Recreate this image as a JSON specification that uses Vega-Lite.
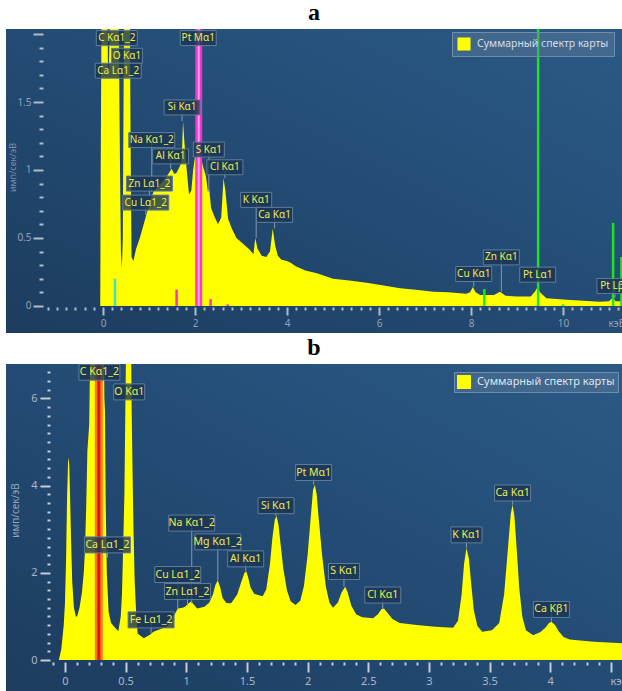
{
  "$schema": "https://vega.github.io/schema/vega-lite/v6.json",
  "background": "white",
  "padding": {"left": 6, "top": 1, "right": 0, "bottom": 0},
  "spacing": 3,
  "resolve": {"scale": {"color": "independent"}},
  "config": {
    "view": {"stroke": null},
    "font": "Noto Sans",
    "axis": {"domain": false, "grid": false, "labelOverlap": false, "labelFlush": false, "labelFont": "Noto Sans", "titleFont": "Noto Sans", "titleFontWeight": "normal", "tickCount": 500},
    "title": {"font": "Liberation Serif", "fontWeight": "bold", "fontSize": 24, "color": "#000000", "anchor": "middle", "frame": "group", "offset": 4}
  },
  "datasets": {
    "specA": [
      {"e": -0.06, "c": 0}, {"e": -0.05, "c": 1.0}, {"e": -0.03, "c": 2.3}, {"e": 0.03, "c": 2.5}, {"e": 0.09, "c": 2.3},
      {"e": 0.11, "c": 1.7}, {"e": 0.13, "c": 1.75}, {"e": 0.16, "c": 2.4}, {"e": 0.3, "c": 2.5}, {"e": 0.34, "c": 2.2},
      {"e": 0.37, "c": 1.0}, {"e": 0.39, "c": 0.4}, {"e": 0.41, "c": 0.28}, {"e": 0.43, "c": 0.5}, {"e": 0.46, "c": 2.3},
      {"e": 0.58, "c": 2.4}, {"e": 0.6, "c": 1.2}, {"e": 0.62, "c": 0.36}, {"e": 0.66, "c": 0.33}, {"e": 0.72, "c": 0.42},
      {"e": 0.8, "c": 0.5}, {"e": 0.9, "c": 0.62}, {"e": 0.95, "c": 0.68}, {"e": 1.0, "c": 0.74}, {"e": 1.05, "c": 0.8},
      {"e": 1.1, "c": 0.84}, {"e": 1.2, "c": 0.88}, {"e": 1.31, "c": 0.92}, {"e": 1.4, "c": 0.96}, {"e": 1.49, "c": 1.01},
      {"e": 1.55, "c": 0.97}, {"e": 1.6, "c": 0.98}, {"e": 1.66, "c": 1.02}, {"e": 1.71, "c": 1.06}, {"e": 1.74, "c": 1.36},
      {"e": 1.77, "c": 1.2}, {"e": 1.82, "c": 1.0}, {"e": 1.87, "c": 0.82}, {"e": 1.92, "c": 0.85}, {"e": 1.96, "c": 1.0},
      {"e": 2.0, "c": 1.1}, {"e": 2.05, "c": 1.25}, {"e": 2.12, "c": 1.1}, {"e": 2.18, "c": 1.02}, {"e": 2.24, "c": 0.95},
      {"e": 2.28, "c": 0.84}, {"e": 2.31, "c": 0.86}, {"e": 2.35, "c": 0.72}, {"e": 2.42, "c": 0.66}, {"e": 2.5, "c": 0.6},
      {"e": 2.57, "c": 0.65}, {"e": 2.62, "c": 0.94}, {"e": 2.66, "c": 0.85}, {"e": 2.72, "c": 0.64}, {"e": 2.8, "c": 0.57},
      {"e": 2.9, "c": 0.5}, {"e": 3.0, "c": 0.47}, {"e": 3.1, "c": 0.44}, {"e": 3.2, "c": 0.41}, {"e": 3.27, "c": 0.38},
      {"e": 3.31, "c": 0.5}, {"e": 3.36, "c": 0.42}, {"e": 3.45, "c": 0.37}, {"e": 3.55, "c": 0.36}, {"e": 3.63, "c": 0.4},
      {"e": 3.69, "c": 0.57}, {"e": 3.74, "c": 0.45}, {"e": 3.8, "c": 0.37}, {"e": 3.88, "c": 0.34}, {"e": 4.0, "c": 0.33},
      {"e": 4.07, "c": 0.32}, {"e": 4.2, "c": 0.29}, {"e": 4.4, "c": 0.26}, {"e": 4.65, "c": 0.24}, {"e": 5.0, "c": 0.2},
      {"e": 5.4, "c": 0.185}, {"e": 5.73, "c": 0.17}, {"e": 6.1, "c": 0.15}, {"e": 6.46, "c": 0.13}, {"e": 6.8, "c": 0.12},
      {"e": 7.18, "c": 0.105}, {"e": 7.5, "c": 0.1}, {"e": 7.9, "c": 0.09}, {"e": 7.98, "c": 0.1}, {"e": 8.04, "c": 0.14},
      {"e": 8.1, "c": 0.1}, {"e": 8.2, "c": 0.08}, {"e": 8.5, "c": 0.08}, {"e": 8.63, "c": 0.105}, {"e": 8.75, "c": 0.075},
      {"e": 9.0, "c": 0.07}, {"e": 9.3, "c": 0.07}, {"e": 9.4, "c": 0.11}, {"e": 9.45, "c": 0.14}, {"e": 9.5, "c": 0.1},
      {"e": 9.64, "c": 0.057}, {"e": 10.08, "c": 0.045}, {"e": 10.8, "c": 0.03}, {"e": 11.0, "c": 0.035}, {"e": 11.07, "c": 0.057},
      {"e": 11.15, "c": 0.035}, {"e": 11.3, "c": 0.035}
    ],
    "specB": [
      {"e": -0.05, "c": 0}, {"e": -0.03, "c": 0.25}, {"e": -0.01, "c": 0.8}, {"e": 0.0, "c": 1.3}, {"e": 0.01, "c": 2.4},
      {"e": 0.018, "c": 3.8}, {"e": 0.027, "c": 4.65}, {"e": 0.035, "c": 4.5}, {"e": 0.042, "c": 3.8}, {"e": 0.05, "c": 2.8},
      {"e": 0.06, "c": 1.8}, {"e": 0.074, "c": 1.2}, {"e": 0.09, "c": 1.0}, {"e": 0.1, "c": 1.0}, {"e": 0.12, "c": 1.2},
      {"e": 0.14, "c": 1.55}, {"e": 0.155, "c": 2.0}, {"e": 0.165, "c": 2.5}, {"e": 0.175, "c": 3.5}, {"e": 0.185, "c": 4.8},
      {"e": 0.2, "c": 5.4}, {"e": 0.21, "c": 7.5}, {"e": 0.28, "c": 9}, {"e": 0.32, "c": 7.5}, {"e": 0.325, "c": 6.0},
      {"e": 0.33, "c": 5.7}, {"e": 0.336, "c": 3.6}, {"e": 0.345, "c": 2.0}, {"e": 0.36, "c": 1.1}, {"e": 0.38, "c": 0.85},
      {"e": 0.41, "c": 0.75}, {"e": 0.44, "c": 0.66}, {"e": 0.46, "c": 1.0}, {"e": 0.47, "c": 1.5}, {"e": 0.48, "c": 2.6},
      {"e": 0.49, "c": 3.8}, {"e": 0.505, "c": 7.5}, {"e": 0.525, "c": 9}, {"e": 0.545, "c": 7.5}, {"e": 0.55, "c": 5.7},
      {"e": 0.558, "c": 4.2}, {"e": 0.565, "c": 3.0}, {"e": 0.575, "c": 1.8}, {"e": 0.59, "c": 0.9}, {"e": 0.6, "c": 0.6},
      {"e": 0.65, "c": 0.5}, {"e": 0.7, "c": 0.58}, {"e": 0.73, "c": 0.65}, {"e": 0.8, "c": 0.72}, {"e": 0.84, "c": 0.77},
      {"e": 0.87, "c": 0.88}, {"e": 0.9, "c": 1.02}, {"e": 0.93, "c": 1.18}, {"e": 0.97, "c": 1.2}, {"e": 0.99, "c": 1.22},
      {"e": 1.02, "c": 1.3}, {"e": 1.04, "c": 1.34}, {"e": 1.06, "c": 1.28}, {"e": 1.09, "c": 1.18}, {"e": 1.15, "c": 1.22},
      {"e": 1.19, "c": 1.32}, {"e": 1.22, "c": 1.5}, {"e": 1.24, "c": 1.72}, {"e": 1.26, "c": 1.83}, {"e": 1.28, "c": 1.66},
      {"e": 1.3, "c": 1.42}, {"e": 1.33, "c": 1.31}, {"e": 1.37, "c": 1.3}, {"e": 1.42, "c": 1.5}, {"e": 1.45, "c": 1.76},
      {"e": 1.48, "c": 2.0}, {"e": 1.495, "c": 2.03}, {"e": 1.51, "c": 1.9}, {"e": 1.53, "c": 1.66}, {"e": 1.56, "c": 1.52},
      {"e": 1.59, "c": 1.49}, {"e": 1.63, "c": 1.46}, {"e": 1.66, "c": 1.62}, {"e": 1.69, "c": 2.2}, {"e": 1.71, "c": 2.8},
      {"e": 1.73, "c": 3.22}, {"e": 1.745, "c": 3.3}, {"e": 1.76, "c": 3.1}, {"e": 1.78, "c": 2.6}, {"e": 1.8, "c": 2.1},
      {"e": 1.83, "c": 1.6}, {"e": 1.86, "c": 1.35}, {"e": 1.9, "c": 1.26}, {"e": 1.94, "c": 1.36}, {"e": 1.97, "c": 1.7},
      {"e": 2.0, "c": 2.4}, {"e": 2.03, "c": 3.4}, {"e": 2.045, "c": 3.9}, {"e": 2.06, "c": 4.02}, {"e": 2.075, "c": 3.8},
      {"e": 2.09, "c": 3.3}, {"e": 2.12, "c": 2.4}, {"e": 2.15, "c": 1.7}, {"e": 2.18, "c": 1.32}, {"e": 2.21, "c": 1.2},
      {"e": 2.25, "c": 1.32}, {"e": 2.28, "c": 1.55}, {"e": 2.31, "c": 1.68}, {"e": 2.33, "c": 1.56}, {"e": 2.36, "c": 1.25},
      {"e": 2.4, "c": 1.05}, {"e": 2.45, "c": 0.98}, {"e": 2.54, "c": 0.96}, {"e": 2.58, "c": 1.05}, {"e": 2.61, "c": 1.17},
      {"e": 2.63, "c": 1.18}, {"e": 2.66, "c": 1.08}, {"e": 2.7, "c": 0.94}, {"e": 2.76, "c": 0.85}, {"e": 2.9, "c": 0.8},
      {"e": 3.05, "c": 0.76}, {"e": 3.2, "c": 0.74}, {"e": 3.24, "c": 0.9}, {"e": 3.27, "c": 1.5}, {"e": 3.29, "c": 2.2},
      {"e": 3.31, "c": 2.57}, {"e": 3.33, "c": 2.32}, {"e": 3.35, "c": 1.72}, {"e": 3.37, "c": 1.15}, {"e": 3.4, "c": 0.78},
      {"e": 3.44, "c": 0.65}, {"e": 3.52, "c": 0.68}, {"e": 3.58, "c": 0.85}, {"e": 3.62, "c": 1.5}, {"e": 3.65, "c": 2.5},
      {"e": 3.675, "c": 3.35}, {"e": 3.69, "c": 3.56}, {"e": 3.705, "c": 3.3}, {"e": 3.725, "c": 2.5}, {"e": 3.745, "c": 1.65},
      {"e": 3.77, "c": 1.0}, {"e": 3.8, "c": 0.68}, {"e": 3.86, "c": 0.57}, {"e": 3.92, "c": 0.64}, {"e": 3.96, "c": 0.74},
      {"e": 3.99, "c": 0.85}, {"e": 4.01, "c": 0.88}, {"e": 4.04, "c": 0.8}, {"e": 4.07, "c": 0.66}, {"e": 4.11, "c": 0.53},
      {"e": 4.16, "c": 0.47}, {"e": 4.36, "c": 0.42}, {"e": 4.6, "c": 0.38}
    ],
    "markA": [
      {"e": 0.26, "h": 0.2, "fam": "K"},
      {"e": 1.6, "h": 0.12, "fam": "M"},
      {"e": 2.34, "h": 0.05, "fam": "M"},
      {"e": 2.71, "h": 0.012, "fam": "M"},
      {"e": 8.29, "h": 0.125, "fam": "L"},
      {"e": 9.46, "h": 3, "fam": "L"},
      {"e": 10.0, "h": 0.012, "fam": "L"},
      {"e": 11.09, "h": 0.61, "fam": "L"},
      {"e": 11.27, "h": 0.36, "fam": "L"}
    ],
    "selA": [{"e": 2.08, "h": 3}],
    "selB": [{"e": 0.279, "h": 9}],
    "labA": [
      {"label": "C Kα1_2", "e": 0.30, "ly": 1.97, "py": 1.97},
      {"label": "O Kα1", "e": 0.52, "ly": 1.84, "py": 1.84},
      {"label": "Ca Lα1_2", "e": 0.33, "ly": 1.73, "py": 1.73},
      {"label": "Pt Mα1", "e": 2.07, "ly": 1.97, "py": 1.97},
      {"label": "Si Kα1", "e": 1.72, "ly": 1.46, "py": 1.36},
      {"label": "Na Kα1_2", "e": 1.06, "ly": 1.22, "py": 0.84},
      {"label": "Al Kα1", "e": 1.47, "ly": 1.10, "py": 1.01},
      {"label": "S Kα1", "e": 2.30, "ly": 1.15, "py": 0.84},
      {"label": "Cl Kα1", "e": 2.65, "ly": 1.02, "py": 0.94},
      {"label": "Zn Lα1_2", "e": 1.01, "ly": 0.90, "py": 0.80},
      {"label": "Cu Lα1_2", "e": 0.93, "ly": 0.76, "py": 0.67},
      {"label": "K Kα1", "e": 3.33, "ly": 0.78, "py": 0.50},
      {"label": "Ca Kα1", "e": 3.73, "ly": 0.67, "py": 0.57},
      {"label": "Cu Kα1", "e": 8.06, "ly": 0.235, "py": 0.14},
      {"label": "Zn Kα1", "e": 8.66, "ly": 0.357, "py": 0.105},
      {"label": "Pt Lα1", "e": 9.45, "ly": 0.23, "py": 0.14},
      {"label": "Pt Lβ1", "e": 11.13, "ly": 0.147, "py": 0.06}
    ],
    "labB": [
      {"label": "C Kα1_2", "e": 0.284, "ly": 6.6, "py": 6.6},
      {"label": "O Kα1", "e": 0.53, "ly": 6.15, "py": 6.15},
      {"label": "Ca Lα1_2", "e": 0.35, "ly": 2.64, "py": 2.35},
      {"label": "Na Kα1_2", "e": 1.045, "ly": 3.14, "py": 1.3},
      {"label": "Mg Kα1_2", "e": 1.26, "ly": 2.71, "py": 1.83},
      {"label": "Al Kα1", "e": 1.49, "ly": 2.32, "py": 2.03},
      {"label": "Si Kα1", "e": 1.74, "ly": 3.54, "py": 3.3},
      {"label": "Cu Lα1_2", "e": 0.93, "ly": 1.96, "py": 1.18},
      {"label": "Zn Lα1_2", "e": 1.01, "ly": 1.57, "py": 1.25},
      {"label": "Fe Lα1_2", "e": 0.71, "ly": 0.92, "py": 0.62},
      {"label": "Pt Mα1", "e": 2.05, "ly": 4.3, "py": 4.02},
      {"label": "S Kα1", "e": 2.3, "ly": 2.03, "py": 1.68},
      {"label": "Cl Kα1", "e": 2.62, "ly": 1.49, "py": 1.18},
      {"label": "K Kα1", "e": 3.31, "ly": 2.87, "py": 2.57},
      {"label": "Ca Kα1", "e": 3.69, "ly": 3.83, "py": 3.56},
      {"label": "Ca Kβ1", "e": 4.01, "ly": 1.16, "py": 0.88}
    ]
  },
  "vconcat": [
    {
      "title": {"text": "a"},
      "width": 616,
      "height": 304,
      "view": {"stroke": null, "fill": {"gradient": "linear", "x1": 0, "y1": 1, "x2": 1, "y2": 0, "stops": [{"offset": 0, "color": "#1d3c5f"}, {"offset": 0.65, "color": "#25507a"}, {"offset": 1, "color": "#2b5a86"}]}},
      "layer": [
        {
          "data": {"name": "specA"},
          "mark": {"type": "area", "clip": true, "interpolate": "linear"},
          "encoding": {
            "x": {"field": "e", "type": "quantitative", "scale": {"domain": [-2.109, 11.283], "nice": false, "zero": false},
              "axis": {"orient": "bottom", "offset": -26, "labelOverlap": false, "labelFlush": false, "labelBound": false, "tickCount": 500,
                "values": [-1.2,-1,-0.8,-0.6,-0.4,-0.2,0,0.2,0.4,0.6,0.8,1,1.2,1.4,1.6,1.8,2,2.2,2.4,2.6,2.8,3,3.2,3.4,3.6,3.8,4,4.2,4.4,4.6,4.8,5,5.2,5.4,5.6,5.8,6,6.2,6.4,6.6,6.8,7,7.2,7.4,7.6,7.8,8,8.2,8.4,8.6,8.8,9,9.2,9.4,9.6,9.8,10,10.2,10.4,10.6,10.8,11,11.2],
                "tickSize": {"condition": {"test": "abs(datum.value/2-round(datum.value/2))<0.01", "value": 8}, "value": 3},
                "tickWidth": 2, "tickColor": "#aebdcd",
                "labelExpr": "abs(datum.value/2-round(datum.value/2))<0.01 ? format(datum.value,'~g') : ''",
                "labelColor": "#8fa3b8", "labelFontSize": 10, "labelPadding": 3,
                "title": "кэВ", "titleX": 602, "titleY": 16, "titleAlign": "left", "titleBaseline": "middle", "titleColor": "#8fa3b8", "titleFontSize": 10}},
            "y": {"field": "c", "type": "quantitative", "scale": {"domain": [-0.199, 2.037], "nice": false, "zero": false},
              "axis": {"orient": "left", "offset": -37, "labelOverlap": false, "labelFlush": false, "labelBound": false, "tickCount": 500,
                "values": [0,0.1,0.2,0.3,0.4,0.5,0.6,0.7,0.8,0.9,1,1.1,1.2,1.3,1.4,1.5,1.6,1.7,1.8,1.9,2],
                "tickSize": {"condition": {"test": "abs(datum.value*2-round(datum.value*2))<0.01", "value": 10}, "value": 4},
                "tickWidth": 2, "tickColor": "#aebdcd",
                "labelExpr": "abs(datum.value*2-round(datum.value*2))<0.01 && datum.value<1.9 ? format(datum.value,'~g') : ''",
                "labelColor": "#8fa3b8", "labelFontSize": 10, "labelPadding": 2,
                "title": "имп/сек/эВ", "titleX": -31, "titleY": 138, "titleAngle": -90, "titleAlign": "center", "titleBaseline": "middle", "titleColor": "#7d90a6", "titleFontSize": 9}},
            "y2": {"datum": 0},
            "color": {"datum": "Суммарный спектр карты", "type": "nominal", "scale": {"range": ["#ffff00"]},
              "legend": {"orient": "none", "legendX": 446, "legendY": 3, "title": null, "padding": 5, "fillColor": "rgba(95,125,155,0.45)", "strokeColor": "#6f8cab", "symbolType": "square", "symbolSize": 170, "symbolStrokeWidth": 0, "symbolOpacity": 1, "labelColor": "#d5dee8", "labelFontSize": 10.5, "labelFont": "Noto Sans", "labelLimit": 400, "labelOffset": 6, "labelExpr": "datum.label + '              '"}}
          }
        },
        {
          "data": {"name": "markA"},
          "mark": {"type": "rule", "clip": true, "strokeWidth": 2.5},
          "encoding": {
            "x": {"field": "e", "type": "quantitative"},
            "y": {"field": "h", "type": "quantitative"},
            "y2": {"datum": 0},
            "stroke": {"field": "fam", "type": "nominal", "scale": {"domain": ["K", "L", "M"], "range": ["#3de3c6", "#1be61b", "#ff2fd2"]}, "legend": null}
          }
        },
        {
          "data": {"name": "selA"},
          "mark": {"type": "rule", "clip": true, "strokeWidth": 7, "color": "#ff2fd2", "opacity": 0.95},
          "encoding": {"x": {"field": "e", "type": "quantitative"}, "y": {"field": "h", "type": "quantitative"}, "y2": {"datum": 0}}
        },
        {
          "data": {"name": "selA"},
          "mark": {"type": "rule", "clip": true, "strokeWidth": 2, "color": "#ff9fe9"},
          "encoding": {"x": {"field": "e", "type": "quantitative"}, "y": {"field": "h", "type": "quantitative"}, "y2": {"datum": 0}}
        },
        {
          "data": {"name": "labA"},
          "mark": {"type": "rule", "clip": true, "strokeWidth": 1, "color": "#8699b0"},
          "encoding": {"x": {"field": "e", "type": "quantitative"}, "y": {"field": "ly", "type": "quantitative"}, "y2": {"field": "py"}}
        },
        {
          "data": {"name": "labA"},
          "transform": [{"calculate": "length(datum.label)*5+6", "as": "w"}],
          "mark": {"type": "tick", "orient": "horizontal", "clip": true, "thickness": 15, "fill": "#1b3452", "fillOpacity": 0.8, "stroke": "#5f7d9b", "strokeWidth": 1},
          "encoding": {"x": {"field": "e", "type": "quantitative"}, "y": {"field": "ly", "type": "quantitative"}, "size": {"field": "w", "type": "quantitative", "scale": null}}
        },
        {
          "data": {"name": "labA"},
          "mark": {"type": "text", "clip": true, "font": "Noto Sans", "fontSize": 10, "color": "#eded50", "align": "center", "baseline": "middle"},
          "encoding": {"x": {"field": "e", "type": "quantitative"}, "y": {"field": "ly", "type": "quantitative"}, "text": {"field": "label"}}
        }
      ]
    },
    {
      "title": {"text": "b"},
      "width": 616,
      "height": 327,
      "view": {"stroke": null, "fill": {"gradient": "linear", "x1": 0, "y1": 1, "x2": 1, "y2": 0, "stops": [{"offset": 0, "color": "#1d3c5f"}, {"offset": 0.65, "color": "#25507a"}, {"offset": 1, "color": "#2b5a86"}]}},
      "layer": [
        {
          "data": {"name": "specB"},
          "mark": {"type": "area", "clip": true, "interpolate": "linear"},
          "encoding": {
            "x": {"field": "e", "type": "quantitative", "scale": {"domain": [-0.486, 4.592], "nice": false, "zero": false},
              "axis": {"orient": "bottom", "offset": -29, "labelOverlap": false, "labelFlush": false, "labelBound": false, "tickCount": 500,
                "values": [-0.1,0,0.1,0.2,0.3,0.4,0.5,0.6,0.7,0.8,0.9,1,1.1,1.2,1.3,1.4,1.5,1.6,1.7,1.8,1.9,2,2.1,2.2,2.3,2.4,2.5,2.6,2.7,2.8,2.9,3,3.1,3.2,3.3,3.4,3.5,3.6,3.7,3.8,3.9,4,4.1,4.2,4.3,4.4,4.5],
                "tickSize": {"condition": {"test": "abs(datum.value*2-round(datum.value*2))<0.01", "value": 10}, "value": 3},
                "tickWidth": 2, "tickColor": "#c3cdd8",
                "labelExpr": "abs(datum.value*2-round(datum.value*2))<0.01 && datum.value<4.4 ? format(datum.value,'~g') : ''",
                "labelColor": "#a9b8c8", "labelFontSize": 11, "labelPadding": 3,
                "title": "кэВ", "titleX": 604, "titleY": 19, "titleAlign": "left", "titleBaseline": "middle", "titleColor": "#a9b8c8", "titleFontSize": 11}},
            "y": {"field": "c", "type": "quantitative", "scale": {"domain": [-0.711, 6.789], "nice": false, "zero": false},
              "axis": {"orient": "left", "offset": -44, "labelOverlap": false, "labelFlush": false, "labelBound": false, "tickCount": 500,
                "values": [0,0.2,0.4,0.6,0.8,1,1.2,1.4,1.6,1.8,2,2.2,2.4,2.6,2.8,3,3.2,3.4,3.6,3.8,4,4.2,4.4,4.6,4.8,5,5.2,5.4,5.6,5.8,6,6.2,6.4,6.6],
                "tickSize": {"condition": {"test": "abs(datum.value/2-round(datum.value/2))<0.01", "value": 10}, "value": 3},
                "tickWidth": 2, "tickColor": "#c3cdd8",
                "labelExpr": "abs(datum.value/2-round(datum.value/2))<0.01 ? format(datum.value,'~g') : ''",
                "labelColor": "#a9b8c8", "labelFontSize": 11, "labelPadding": 3,
                "title": "имп/сек/эВ", "titleX": -35, "titleY": 146, "titleAngle": -90, "titleAlign": "center", "titleBaseline": "middle", "titleColor": "#93a6ba", "titleFontSize": 10}},
            "y2": {"datum": 0},
            "color": {"datum": "Суммарный спектр карты", "type": "nominal", "scale": {"range": ["#ffff00"]},
              "legend": {"orient": "none", "legendX": 448, "legendY": 8, "title": null, "padding": 3, "fillColor": "rgba(95,125,155,0.45)", "strokeColor": "#6f8cab", "symbolType": "square", "symbolSize": 196, "symbolStrokeWidth": 0, "symbolOpacity": 1, "labelColor": "#dfe6ee", "labelFontSize": 11, "labelFont": "Noto Sans", "labelLimit": 400, "labelOffset": 6, "labelExpr": "datum.label + '              '"}}
          }
        },
        {
          "data": {"name": "selB"},
          "mark": {"type": "rule", "clip": true, "strokeWidth": 8, "color": "#f2441c", "opacity": 0.7},
          "encoding": {"x": {"field": "e", "type": "quantitative"}, "y": {"field": "h", "type": "quantitative"}, "y2": {"datum": 0}}
        },
        {
          "data": {"name": "selB"},
          "mark": {"type": "rule", "clip": true, "strokeWidth": 3, "color": "#e5121c"},
          "encoding": {"x": {"field": "e", "type": "quantitative"}, "y": {"field": "h", "type": "quantitative"}, "y2": {"datum": 0}}
        },
        {
          "data": {"name": "labB"},
          "mark": {"type": "rule", "clip": true, "strokeWidth": 1, "color": "#8699b0"},
          "encoding": {"x": {"field": "e", "type": "quantitative"}, "y": {"field": "ly", "type": "quantitative"}, "y2": {"field": "py"}}
        },
        {
          "data": {"name": "labB"},
          "transform": [{"calculate": "length(datum.label)*5+6", "as": "w"}],
          "mark": {"type": "tick", "orient": "horizontal", "clip": true, "thickness": 16, "fill": "#1b3452", "fillOpacity": 0.8, "stroke": "#5f7d9b", "strokeWidth": 1},
          "encoding": {"x": {"field": "e", "type": "quantitative"}, "y": {"field": "ly", "type": "quantitative"}, "size": {"field": "w", "type": "quantitative", "scale": null}}
        },
        {
          "data": {"name": "labB"},
          "mark": {"type": "text", "clip": true, "font": "Noto Sans", "fontSize": 10.5, "color": "#eded50", "align": "center", "baseline": "middle"},
          "encoding": {"x": {"field": "e", "type": "quantitative"}, "y": {"field": "ly", "type": "quantitative"}, "text": {"field": "label"}}
        }
      ]
    }
  ]
}
